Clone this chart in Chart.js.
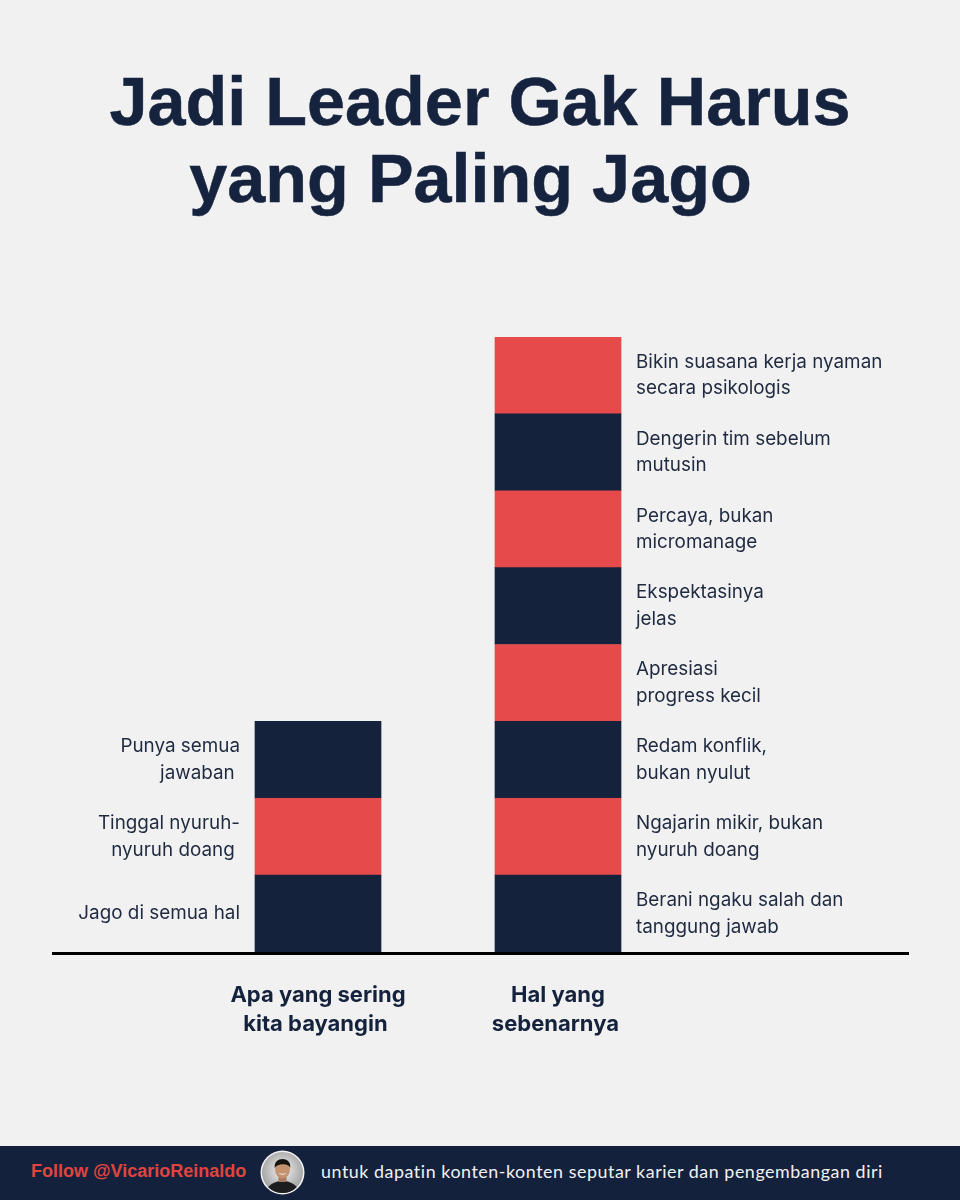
<!DOCTYPE html>
<html lang="id">
<head>
<meta charset="utf-8">
<title>Jadi Leader Gak Harus yang Paling Jago</title>
<script src="https://cdn.jsdelivr.net/npm/chart.js@4"></script>
<style>
  html, body { margin: 0; padding: 0; background: #f1f1f1; }
  #page { position: relative; width: 960px; height: 1200px; overflow: hidden; }
  #chart { position: absolute; left: 0; top: 0; }
  h1 {
    position: absolute; left: 0; top: 63px; width: 960px; margin: 0;
    font: bold 68.4px/77px "Liberation Sans", sans-serif;
    -webkit-text-stroke: 0.5px #16233f;
    color: #16233f; text-align: center; white-space: pre;
  }
  #footer {
    position: absolute; left: 0; top: 1146px; width: 960px; height: 54px;
    background: #14213d;
  }
  #follow {
    position: absolute; left: 31px; top: 13px;
    font: bold 18px/24px "Liberation Sans", sans-serif; color: #e0443f;
  }
  #avatar { position: absolute; left: 260px; top: 4px; }
  #tagline {
    position: absolute; left: 321px; top: 13px;
    font: 17.85px/24px Lato, sans-serif; letter-spacing: 0.55px;
    color: #f1f1f1; white-space: nowrap;
  }
</style>
</head>
<body>
<div id="page">
  <canvas id="chart" width="960" height="1200"></canvas>
  <h1>Jadi Leader Gak Harus
yang Paling Jago </h1>
  <div id="footer">
    <div id="follow">Follow @VicarioReinaldo</div>
    <svg id="avatar" width="45" height="45" viewBox="0 0 45 45">
      <defs>
        <radialGradient id="bg" cx="50%" cy="45%" r="60%">
          <stop offset="0" stop-color="#f4f4f4"/><stop offset="1" stop-color="#8f8f8f"/>
        </radialGradient>
        <clipPath id="round"><circle cx="22.5" cy="22.5" r="20.5"/></clipPath>
      </defs>
      <circle cx="22.5" cy="22.5" r="22" fill="#f1f1f1"/>
      <g clip-path="url(#round)">
        <rect width="45" height="45" fill="url(#bg)"/>
        <path d="M5 45 C6 35 14 32 22.5 30 C31 32 39 35 40 45 Z" fill="#1d1d1f"/>
        <rect x="18.5" y="25" width="8" height="7" fill="#a87a5d"/>
        <ellipse cx="22.5" cy="19" rx="7.5" ry="9.5" fill="#c4926f"/>
        <path d="M14.8 18 C13 6 32 6 30.2 18 C29 13 17 13 14.8 18 Z" fill="#17130f"/>
        <path d="M18 23 Q22.5 26.5 27 23 Q22.5 24.5 18 23 Z" fill="#f4f4f4"/>
      </g>
    </svg>
    <div id="tagline">untuk dapatin konten-konten seputar karier dan pengembangan diri</div>
  </div>
</div>
<script>
// isi chart, urut dari bawah ke atas
const categories = [['Apa yang sering', 'kita bayangin '], ['Hal yang', 'sebenarnya ']];

const leftValues = [1, 1, 1];
const leftTexts = [
  ['Jago di semua hal'],
  ['Tinggal nyuruh-', 'nyuruh doang '],
  ['Punya semua', 'jawaban '],
];

const rightValues = [1, 1, 1, 1, 1, 1, 1, 1];
const rightTexts = [
  ['Berani ngaku salah dan', 'tanggung jawab'],
  ['Ngajarin mikir, bukan', 'nyuruh doang'],
  ['Redam konflik,', 'bukan nyulut'],
  ['Apresiasi', 'progress kecil'],
  ['Ekspektasinya', 'jelas'],
  ['Percaya, bukan', 'micromanage'],
  ['Dengerin tim sebelum', 'mutusin'],
  ['Bikin suasana kerja nyaman', 'secara psikologis'],
];

const navy = '#15223c';
const red = '#e64a4a';
const textColor = '#1f2a40';

const datasets = [
  ...leftValues.map((v, i) => ({
    data: [v, null],
    backgroundColor: i % 2 ? red : navy,
    segmentText: leftTexts[i],
    side: 'left',
  })),
  ...rightValues.map((v, i) => ({
    data: [null, v],
    backgroundColor: i % 2 ? red : navy,
    segmentText: rightTexts[i],
    side: 'right',
  })),
];

// teks di samping tiap blok + garis dasar yang lebih lebar dari area chart
const annotate = {
  id: 'annotate',
  afterDatasetsDraw(chart) {
    const { ctx } = chart;
    ctx.save();
    ctx.fillStyle = textColor;
    ctx.font = '18.85px Inter';
    ctx.textBaseline = 'middle';
    chart.data.datasets.forEach((ds, i) => {
      const idx = ds.side === 'left' ? 0 : 1;
      const bar = chart.getDatasetMeta(i).data[idx];
      const mid = (bar.y + bar.base) / 2;
      const lineH = 26.6;
      const startY = mid - (ds.segmentText.length - 1) * lineH / 2;
      ctx.textAlign = ds.side === 'left' ? 'right' : 'left';
      const x = ds.side === 'left' ? bar.x - bar.width / 2 - 15 : bar.x + bar.width / 2 + 15;
      ds.segmentText.forEach((line, j) => ctx.fillText(line, x, startY + j * lineH));
    });

    const y0 = chart.scales.y.getPixelForValue(0);
    ctx.fillStyle = '#000';
    ctx.fillRect(52, y0, 857, 3);
    ctx.restore();
  },
};

new Chart(document.getElementById('chart').getContext('2d'), {
  type: 'bar',
  data: { labels: categories, datasets },
  plugins: [annotate],
  options: {
    responsive: false,
    animation: false,
    layout: { padding: { left: 198, right: 282, top: 337, bottom: 0 } },
    plugins: { legend: { display: false }, tooltip: { enabled: false }, title: { display: false } },
    datasets: { bar: { barThickness: 126, borderWidth: 0 } },
    scales: {
      x: {
        stacked: true,
        grid: { display: false },
        border: { display: false },
        afterFit: (s) => { s.height = 248; },
        ticks: {
          color: navy,
          padding: 20,
          maxRotation: 0,
          autoSkip: false,
          font: { family: 'Inter', size: 22, weight: '700', lineHeight: 1.36 },
        },
      },
      y: { stacked: true, min: 0, max: 8, display: false },
    },
  },
});
</script>
</body>
</html>
